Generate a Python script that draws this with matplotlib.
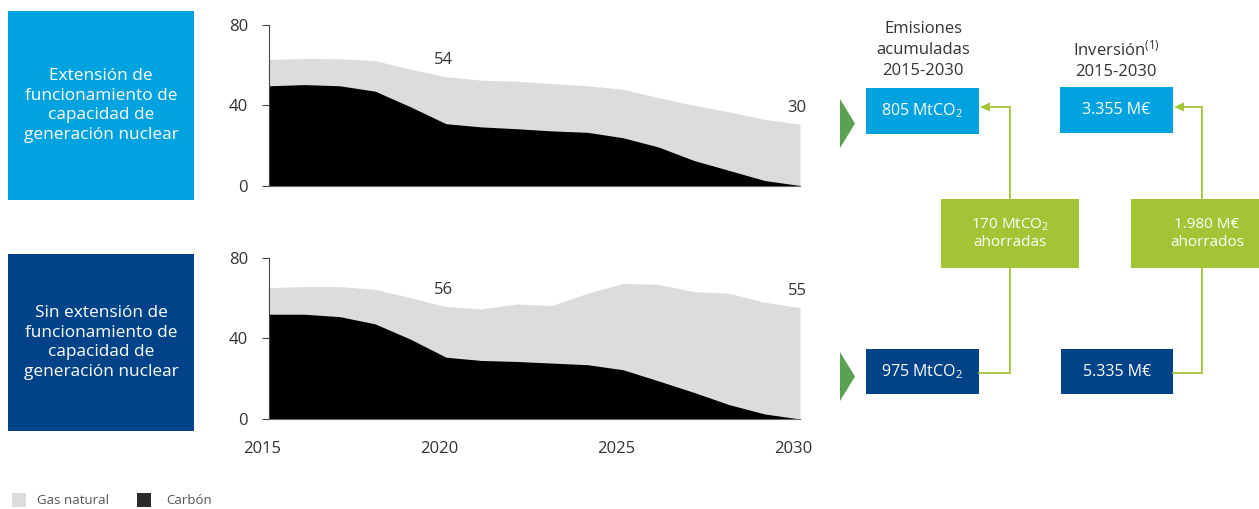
import matplotlib
matplotlib.use("Agg")
import matplotlib.pyplot as plt
from matplotlib.patches import Rectangle, Polygon
from matplotlib.transforms import ScaledTranslation

plt.rcParams['font.family'] = ['Open Sans', 'DejaVu Sans']
plt.rcParams['mathtext.fontset'] = 'custom'
plt.rcParams['mathtext.rm'] = 'Open Sans'
plt.rcParams['mathtext.default'] = 'regular'

# ---------------- data ----------------
years = list(range(2015, 2031))
# Scenario 1: extension of nuclear operation
carbon_ext = [49.7, 50.3, 49.7, 47.0, 39.2, 30.8, 29.2, 28.3, 27.2, 26.5, 23.8, 19.2, 12.5, 7.5, 2.5, 0.0]
total_ext = [62.8, 63.3, 63.2, 62.2, 58.0, 54.2, 52.5, 52.0, 50.8, 49.7, 48.0, 43.8, 40.0, 36.7, 33.0, 30.5]
# Scenario 2: no extension
carbon_noext = [51.9, 51.9, 50.7, 47.1, 39.5, 30.6, 29.0, 28.5, 27.7, 26.9, 24.4, 18.9, 13.2, 7.1, 2.5, 0.0]
total_noext = [65.1, 65.6, 65.6, 64.2, 60.1, 55.7, 54.5, 57.0, 56.2, 62.3, 67.2, 66.7, 63.1, 62.3, 57.8, 55.2]

labels_ext = {2020: "54", 2030: "30"}
labels_noext = {2020: "56", 2030: "55"}

yticks = [0, 40, 80]
xticks = [2015, 2020, 2025, 2030]

scenario_titles = ["Extensión de\nfuncionamiento de\ncapacidad de\ngeneración nuclear",
                   "Sin extensión de\nfuncionamiento de\ncapacidad de\ngeneración nuclear"]
emis_values = ["805 MtCO$_2$", "975 MtCO$_2$"]
inv_values = ["3.355 M€", "5.335 M€"]
saved_values = ["170 MtCO$_2$\nahorradas", "1.980 M€\nahorrados"]
legend_labels = ["Gas natural", "Carbón"]

# ---------------- style ----------------
C_GAS = "#DCDCDE"
C_COAL = "#000000"
C_LBLUE = "#00A3E0"
C_DBLUE = "#004388"
C_GREEN = "#A2C535"
C_ARROW = "#5AA152"
C_TXT = "#333333"

W, H = 1259, 509
fig = plt.figure(figsize=(W / 100, H / 100), dpi=100)


def px_axes(left, top, right, bottom):
    return fig.add_axes([left / W, 1 - bottom / H, (right - left) / W, (bottom - top) / H])


def area_chart(ax, carbon, total, labels, show_x):
    ax.fill_between(years, 0, total, color=C_GAS, lw=0)
    ax.fill_between(years, 0, carbon, color=C_COAL, lw=0)
    ax.set_xlim(2015, 2030)
    ax.set_ylim(0, 80)
    ax.set_yticks(yticks)
    ax.set_facecolor("none")
    for s in ["top", "right"]:
        ax.spines[s].set_visible(False)
    ax.spines["left"].set_color("#444444")
    ax.spines["left"].set_linewidth(0.8)
    ax.spines["bottom"].set_color("#666666")
    ax.spines["bottom"].set_linewidth(0.8)
    ax.tick_params(axis="y", length=5, width=0.8, color="#444444", pad=10,
                   labelsize=12, labelcolor=C_TXT)
    ax.set_xticks(xticks)
    if show_x:
        ax.tick_params(axis="x", length=0, pad=16, labelsize=12, labelcolor=C_TXT)
        off = ScaledTranslation(-7 / 100, 0, fig.dpi_scale_trans)
        for lab in ax.get_xticklabels():
            lab.set_transform(lab.get_transform() + off)
    else:
        ax.tick_params(axis="x", length=0, labelbottom=False)
    for yr, txt in labels.items():
        v = total[years.index(yr)]
        ax.annotate(txt, (yr, v), xytext=(-2, 6), textcoords="offset points",
                    ha="center", va="bottom", fontsize=12, color=C_TXT)


ax1 = px_axes(269, 25, 800, 185.5)
area_chart(ax1, carbon_ext, total_ext, labels_ext, False)
ax2 = px_axes(269, 257.5, 800, 419)
area_chart(ax2, carbon_noext, total_noext, labels_noext, True)

# ---------------- overlay for boxes ----------------
ov2 = fig.add_axes([0, 0, 1, 1], zorder=5)
ov2.set_xlim(0, W)
ov2.set_ylim(H, 0)
ov2.axis("off")
ov2.patch.set_visible(False)


def box(x0, y0, x1, y1, color, text, fs, ls=1.2, tx=None):
    ov2.add_patch(Rectangle((x0, y0), x1 - x0, y1 - y0, color=color, lw=0))
    cx = (x0 + x1) / 2 if tx is None else tx
    ov2.text(cx, (y0 + y1) / 2, text, ha="center", va="center",
             color="white", fontsize=fs, linespacing=ls)


# scenario boxes
box(8, 11, 194, 200, C_LBLUE, scenario_titles[0], 12.4, 1.3)
box(8, 254, 194, 431, C_DBLUE, scenario_titles[1], 12.4, 1.3)

# headers
ov2.text(923, 50, "Emisiones\nacumuladas\n2015-2030", ha="center", va="center",
         fontsize=12, color=C_TXT, linespacing=1.38)
ov2.text(1116, 60, "Inversión$^{(1)}$\n2015-2030", ha="center", va="center",
         fontsize=12, color=C_TXT, linespacing=1.38)

# value boxes
box(866, 88, 979, 134, C_LBLUE, emis_values[0], 11.5)
box(866, 349, 979, 394, C_DBLUE, emis_values[1], 11.5)
box(1060, 87, 1173, 133, C_LBLUE, inv_values[0], 11.5)
box(1061, 349, 1173, 394, C_DBLUE, inv_values[1], 11.5)

# green arrows (triangles)
for y0, y1 in [(99, 148), (352, 401)]:
    ov2.add_patch(Polygon([(840, y0), (855, (y0 + y1) / 2), (840, y1)], closed=True,
                          color=C_ARROW, lw=0))

# connector lines
for xl, xr, ytop in [(979, 1010, 107), (1173, 1202, 107)]:
    ov2.plot([xl + 10, xr, xr], [ytop, ytop, 199], color=C_GREEN, lw=1.3, solid_joinstyle="miter")
    ov2.add_patch(Polygon([(xl + 1, ytop), (xl + 11, ytop - 4.5), (xl + 11, ytop + 4.5)],
                          closed=True, color=C_GREEN, lw=0))
    ov2.plot([xr, xr, xl], [268, 373, 373], color=C_GREEN, lw=1.3, solid_joinstyle="miter")

# saved boxes
box(941, 199, 1079, 268, C_GREEN, saved_values[0], 11, 1.2)
box(1131, 199, 1259, 268, C_GREEN, saved_values[1], 11, 1.2, tx=1207)

# legend
ov2.add_patch(Rectangle((12, 493), 14, 14, color=C_GAS, lw=0))
ov2.text(37, 500.5, legend_labels[0], ha="left", va="center", fontsize=9.5, color="#555555")
ov2.add_patch(Rectangle((137, 493), 14, 14, color="#2B2B2B", lw=0))
ov2.text(166, 500.5, legend_labels[1], ha="left", va="center", fontsize=9.5, color="#555555")

fig.savefig("out.png", dpi=100)
